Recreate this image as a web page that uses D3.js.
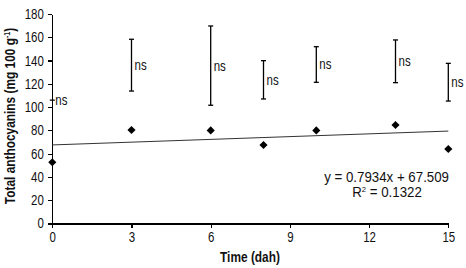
<!DOCTYPE html>
<html>
<head>
<meta charset="utf-8">
<script src="https://cdn.jsdelivr.net/npm/d3@7"></script>
<style>
  body { margin: 0; background: #fff; }
  svg text { font-family: "Liberation Sans", Arial, sans-serif; fill: #111; }
  .axis path, .axis line { stroke: #000; stroke-width: 1.2; shape-rendering: crispEdges; }
  .axis text { font-size: 14px; }
</style>
</head>
<body>
<div class="container"></div>
<script>
const WIDTH = 466;
const HEIGHT = 268;
const NARROW = 0.82; // squeeze Arial-like text into an Arial Narrow look

// time (days after harvest) and mean total anthocyanins
var days = [0, 3, 6, 8, 10, 13, 15];
var anthocyanins = [52.6, 80.3, 80, 67.4, 80, 84.6, 64];
// error bar range for each sampling day
var errLow = [106, 113.8, 101.6, 107, 121.3, 121, 105.2];
var errHigh = [106, 158.3, 169.7, 139.9, 151.9, 157.7, 137.6];
var sigLabels = ["ns", "ns", "ns", "ns", "ns", "ns", "ns"];

var xTicks = [0, 3, 6, 9, 12, 15];
var yTicks = [0, 20, 40, 60, 80, 100, 120, 140, 160, 180];

var slope = 0.7934;
var intercept = 67.509;
var rSquared = "0.1322";

var translate = function(x, y) {
    return `translate(${x},${y})`;
};

var narrowText = function(parent, x, y, rotate, squeeze) {
    return parent.append('text')
        .attr('transform', translate(x, y) + (rotate ? ` rotate(${rotate})` : '') + ` scale(${squeeze || NARROW},1)`)
        .attr('dy', '0.35em');
};

var drawChart = function() {
    var svg = d3.select('.container').append('svg')
        .attr('width', WIDTH)
        .attr('height', HEIGHT);

    let xScale = d3.scaleLinear().domain([0, 15]).range([52.3, 448.3]);
    let yScale = d3.scaleLinear().domain([0, 180]).range([223.5, 14]);

    let xAxis = d3.axisBottom(xScale).tickValues(xTicks).tickSize(4).tickSizeOuter(0).tickPadding(5);
    let yAxis = d3.axisLeft(yScale).tickValues(yTicks).tickSize(4).tickSizeOuter(0).tickPadding(4);

    var gx = svg.append('g')
        .classed('axis', true)
        .attr('transform', translate(0, yScale(0)))
        .call(xAxis);
    gx.selectAll('text').attr('transform', `scale(${NARROW},1)`);

    var gy = svg.append('g')
        .classed('axis', true)
        .attr('transform', translate(xScale(0), 0))
        .call(yAxis);
    gy.selectAll('text').attr('x', -8.5 / NARROW).attr('transform', `scale(${NARROW},1)`);

    // trend line
    var trend = [0, 15].map((x) => [x, slope * x + intercept]);
    svg.append('path')
        .attr('d', d3.line().x(([x, y]) => xScale(x)).y(([x, y]) => yScale(y))(trend))
        .attr('stroke', '#333')
        .attr('stroke-width', 1)
        .attr('fill', 'none');

    // error bars with "ns" labels
    var bars = svg.append('g');
    days.forEach(function(d, i) {
        var x = xScale(d);
        var g = bars.append('g');
        g.append('line')
            .attr('x1', x).attr('x2', x)
            .attr('y1', yScale(errLow[i])).attr('y2', yScale(errHigh[i]));
        if (errLow[i] !== errHigh[i]) {
            g.append('line')
                .attr('x1', x - 2.5).attr('x2', x + 2.5)
                .attr('y1', yScale(errLow[i])).attr('y2', yScale(errLow[i]));
        }
        g.append('line')
            .attr('x1', x - 2.5).attr('x2', x + 2.5)
            .attr('y1', yScale(errHigh[i])).attr('y2', yScale(errHigh[i]));
        g.selectAll('line').attr('stroke', '#000').attr('stroke-width', 1.3);
        narrowText(g, x + 3, yScale((errLow[i] + errHigh[i]) / 2))
            .style('font-size', '14px')
            .text(sigLabels[i]);
    });

    // data points
    svg.append('g').selectAll('path')
        .data(days)
        .enter()
        .append('path')
        .attr('d', d3.symbol().type(d3.symbolSquare).size(33))
        .attr('transform', (d, i) => translate(xScale(d), yScale(anthocyanins[i])) + ' rotate(45)')
        .attr('fill', '#000');

    // equation
    narrowText(svg, 449, 176.7, 0, 0.95)
        .attr('text-anchor', 'end')
        .style('font-size', '14px')
        .text(`y = ${slope}x + ${intercept}`);
    var r2 = narrowText(svg, 387, 191.7, 0, 0.95)
        .attr('text-anchor', 'middle')
        .style('font-size', '14px');
    r2.append('tspan').text('R');
    r2.append('tspan').attr('dy', '-5').style('font-size', '8px').text('2');
    r2.append('tspan').attr('dy', '5').text(' = ' + rSquared);

    // axis titles
    narrowText(svg, 250, 256.5)
        .attr('text-anchor', 'middle')
        .style('font-size', '14.5px').style('font-weight', 'bold')
        .text('Time (dah)');

    var yt = narrowText(svg, 10, 116, -90)
        .attr('text-anchor', 'middle')
        .style('font-size', '14.5px').style('font-weight', 'bold');
    yt.append('tspan').text('Total anthocyanins (mg 100 g');
    yt.append('tspan').attr('dy', '-5').style('font-size', '8.5px').text('-1');
    yt.append('tspan').attr('dy', '5').text(')');
};

window.onload = function() {
    drawChart();
};
</script>
</body>
</html>
